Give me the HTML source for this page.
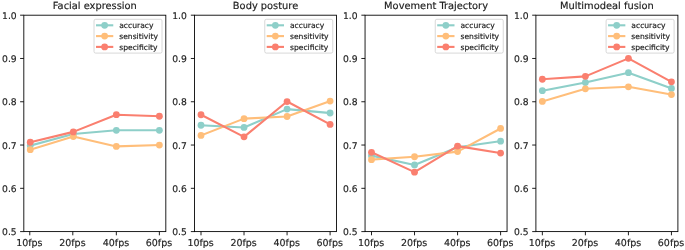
<!DOCTYPE html>
<html lang="en">
<head>
<meta charset="utf-8">
<title>Metrics by frame rate</title>
<style>
html,body{margin:0;padding:0;background:#fff;}
body{width:685px;height:250px;overflow:hidden;}
svg{display:block;text-rendering:geometricPrecision;}
text{stroke:#222;stroke-width:0.16px;font-family:"DejaVu Sans","Liberation Sans",sans-serif;}
</style>
</head>
<body>
<svg width="685" height="250" viewBox="0 0 685 250">
<rect width="685" height="250" fill="#fff"/>
<g>
<polyline points="30.27,145.6 73.3,134 116.34,130.32 159.37,130.32" fill="none" stroke="#8ECFC9" stroke-width="2.1" stroke-linejoin="round" stroke-linecap="square"/>
<circle cx="30.27" cy="145.6" r="3.4" fill="#8ECFC9"/>
<circle cx="73.3" cy="134" r="3.4" fill="#8ECFC9"/>
<circle cx="116.34" cy="130.32" r="3.4" fill="#8ECFC9"/>
<circle cx="159.37" cy="130.32" r="3.4" fill="#8ECFC9"/>
<polyline points="30.27,149.67 73.3,136.51 116.34,146.42 159.37,145.08" fill="none" stroke="#FFBE7A" stroke-width="2.1" stroke-linejoin="round" stroke-linecap="square"/>
<circle cx="30.27" cy="149.67" r="3.4" fill="#FFBE7A"/>
<circle cx="73.3" cy="136.51" r="3.4" fill="#FFBE7A"/>
<circle cx="116.34" cy="146.42" r="3.4" fill="#FFBE7A"/>
<circle cx="159.37" cy="145.08" r="3.4" fill="#FFBE7A"/>
<polyline points="30.27,142.23 73.3,131.88 116.34,114.7 159.37,116.26" fill="none" stroke="#FA7F6F" stroke-width="2.1" stroke-linejoin="round" stroke-linecap="square"/>
<circle cx="30.27" cy="142.23" r="3.4" fill="#FA7F6F"/>
<circle cx="73.3" cy="131.88" r="3.4" fill="#FA7F6F"/>
<circle cx="116.34" cy="114.7" r="3.4" fill="#FA7F6F"/>
<circle cx="159.37" cy="116.26" r="3.4" fill="#FA7F6F"/>
<rect x="23.82" y="15.2" width="142" height="216.4" fill="none" stroke="#000" stroke-width="0.88"/>
<path d="M29.77 231.6v3.7M72.8 231.6v3.7M116.34 231.6v3.7M159.37 231.6v3.7M23.82 231.6h-3.7M23.82 188.32h-3.7M23.82 145.04h-3.7M23.82 101.76h-3.7M23.82 58.48h-3.7M23.82 15.2h-3.7" stroke="#000" stroke-width="0.88" fill="none"/>
<g font-size="9.5" fill="#222">
<text x="29.37" y="246" text-anchor="middle">10fps</text>
<text x="72.4" y="246" text-anchor="middle">20fps</text>
<text x="115.94" y="246" text-anchor="middle">40fps</text>
<text x="158.97" y="246" text-anchor="middle">60fps</text>
<text x="16.72" y="235.15" text-anchor="end" font-size="9.2">0.5</text>
<text x="16.72" y="191.87" text-anchor="end" font-size="9.2">0.6</text>
<text x="16.72" y="148.59" text-anchor="end" font-size="9.2">0.7</text>
<text x="16.72" y="105.31" text-anchor="end" font-size="9.2">0.8</text>
<text x="16.72" y="62.03" text-anchor="end" font-size="9.2">0.9</text>
<text x="16.72" y="18.75" text-anchor="end" font-size="9.2">1.0</text>
</g>
<text x="94.82" y="8.8" text-anchor="middle" font-size="9.85" fill="#222">Facial expression</text>
<rect x="94.02" y="19.3" width="68" height="33.8" rx="1.6" fill="#fff" fill-opacity="0.8" stroke="#ccc" stroke-opacity="0.8" stroke-width="0.95"/>
<g font-size="7.6" fill="#222" style="stroke-width:0.06px">
<path d="M97.02 25.3h15.2" stroke="#8ECFC9" stroke-width="2.1" stroke-linecap="square" fill="none"/>
<circle cx="104.62" cy="25.3" r="3.4" fill="#8ECFC9"/>
<text x="119.22" y="28">accuracy</text>
<path d="M97.02 36.1h15.2" stroke="#FFBE7A" stroke-width="2.1" stroke-linecap="square" fill="none"/>
<circle cx="104.62" cy="36.1" r="3.4" fill="#FFBE7A"/>
<text x="119.22" y="38.8">sensitivity</text>
<path d="M97.02 46.9h15.2" stroke="#FA7F6F" stroke-width="2.1" stroke-linecap="square" fill="none"/>
<circle cx="104.62" cy="46.9" r="3.4" fill="#FA7F6F"/>
<text x="119.22" y="49.6">specificity</text>
</g>
</g>
<g>
<polyline points="201,125.26 244.03,127.47 287.07,109.12 330.1,113.01" fill="none" stroke="#8ECFC9" stroke-width="2.1" stroke-linejoin="round" stroke-linecap="square"/>
<circle cx="201" cy="125.26" r="3.4" fill="#8ECFC9"/>
<circle cx="244.03" cy="127.47" r="3.4" fill="#8ECFC9"/>
<circle cx="287.07" cy="109.12" r="3.4" fill="#8ECFC9"/>
<circle cx="330.1" cy="113.01" r="3.4" fill="#8ECFC9"/>
<polyline points="201,135.39 244.03,118.64 287.07,116.48 330.1,101.07" fill="none" stroke="#FFBE7A" stroke-width="2.1" stroke-linejoin="round" stroke-linecap="square"/>
<circle cx="201" cy="135.39" r="3.4" fill="#FFBE7A"/>
<circle cx="244.03" cy="118.64" r="3.4" fill="#FFBE7A"/>
<circle cx="287.07" cy="116.48" r="3.4" fill="#FFBE7A"/>
<circle cx="330.1" cy="101.07" r="3.4" fill="#FFBE7A"/>
<polyline points="201,114.74 244.03,136.82 287.07,101.54 330.1,124.4" fill="none" stroke="#FA7F6F" stroke-width="2.1" stroke-linejoin="round" stroke-linecap="square"/>
<circle cx="201" cy="114.74" r="3.4" fill="#FA7F6F"/>
<circle cx="244.03" cy="136.82" r="3.4" fill="#FA7F6F"/>
<circle cx="287.07" cy="101.54" r="3.4" fill="#FA7F6F"/>
<circle cx="330.1" cy="124.4" r="3.4" fill="#FA7F6F"/>
<rect x="194.55" y="15.2" width="142" height="216.4" fill="none" stroke="#000" stroke-width="0.88"/>
<path d="M201 231.6v3.7M244.03 231.6v3.7M287.07 231.6v3.7M330.1 231.6v3.7M194.55 231.6h-3.7M194.55 188.32h-3.7M194.55 145.04h-3.7M194.55 101.76h-3.7M194.55 58.48h-3.7M194.55 15.2h-3.7" stroke="#000" stroke-width="0.88" fill="none"/>
<g font-size="9.5" fill="#222">
<text x="200.6" y="246" text-anchor="middle">10fps</text>
<text x="243.63" y="246" text-anchor="middle">20fps</text>
<text x="286.67" y="246" text-anchor="middle">40fps</text>
<text x="329.7" y="246" text-anchor="middle">60fps</text>
<text x="186.85" y="235.15" text-anchor="end" font-size="9.2">0.5</text>
<text x="186.85" y="191.87" text-anchor="end" font-size="9.2">0.6</text>
<text x="186.85" y="148.59" text-anchor="end" font-size="9.2">0.7</text>
<text x="186.85" y="105.31" text-anchor="end" font-size="9.2">0.8</text>
<text x="186.85" y="62.03" text-anchor="end" font-size="9.2">0.9</text>
<text x="186.85" y="18.75" text-anchor="end" font-size="9.2">1.0</text>
</g>
<text x="265.55" y="8.8" text-anchor="middle" font-size="9.85" fill="#222">Body posture</text>
<rect x="264.75" y="19.3" width="68" height="33.8" rx="1.6" fill="#fff" fill-opacity="0.8" stroke="#ccc" stroke-opacity="0.8" stroke-width="0.95"/>
<g font-size="7.6" fill="#222" style="stroke-width:0.06px">
<path d="M267.75 25.3h15.2" stroke="#8ECFC9" stroke-width="2.1" stroke-linecap="square" fill="none"/>
<circle cx="275.35" cy="25.3" r="3.4" fill="#8ECFC9"/>
<text x="289.95" y="28">accuracy</text>
<path d="M267.75 36.1h15.2" stroke="#FFBE7A" stroke-width="2.1" stroke-linecap="square" fill="none"/>
<circle cx="275.35" cy="36.1" r="3.4" fill="#FFBE7A"/>
<text x="289.95" y="38.8">sensitivity</text>
<path d="M267.75 46.9h15.2" stroke="#FA7F6F" stroke-width="2.1" stroke-linecap="square" fill="none"/>
<circle cx="275.35" cy="46.9" r="3.4" fill="#FA7F6F"/>
<text x="289.95" y="49.6">specificity</text>
</g>
</g>
<g>
<polyline points="371.5,155.64 414.53,164.95 457.57,147.2 500.6,141.14" fill="none" stroke="#8ECFC9" stroke-width="2.1" stroke-linejoin="round" stroke-linecap="square"/>
<circle cx="371.5" cy="155.64" r="3.4" fill="#8ECFC9"/>
<circle cx="414.53" cy="164.95" r="3.4" fill="#8ECFC9"/>
<circle cx="457.57" cy="147.2" r="3.4" fill="#8ECFC9"/>
<circle cx="500.6" cy="141.14" r="3.4" fill="#8ECFC9"/>
<polyline points="371.5,159.63 414.53,156.73 457.57,151.62 500.6,128.46" fill="none" stroke="#FFBE7A" stroke-width="2.1" stroke-linejoin="round" stroke-linecap="square"/>
<circle cx="371.5" cy="159.63" r="3.4" fill="#FFBE7A"/>
<circle cx="414.53" cy="156.73" r="3.4" fill="#FFBE7A"/>
<circle cx="457.57" cy="151.62" r="3.4" fill="#FFBE7A"/>
<circle cx="500.6" cy="128.46" r="3.4" fill="#FFBE7A"/>
<polyline points="371.5,152.31 414.53,172.13 457.57,146.12 500.6,153.05" fill="none" stroke="#FA7F6F" stroke-width="2.1" stroke-linejoin="round" stroke-linecap="square"/>
<circle cx="371.5" cy="152.31" r="3.4" fill="#FA7F6F"/>
<circle cx="414.53" cy="172.13" r="3.4" fill="#FA7F6F"/>
<circle cx="457.57" cy="146.12" r="3.4" fill="#FA7F6F"/>
<circle cx="500.6" cy="153.05" r="3.4" fill="#FA7F6F"/>
<rect x="365.05" y="15.2" width="142" height="216.4" fill="none" stroke="#000" stroke-width="0.88"/>
<path d="M371.5 231.6v3.7M414.53 231.6v3.7M457.57 231.6v3.7M500.6 231.6v3.7M365.05 231.6h-3.7M365.05 188.32h-3.7M365.05 145.04h-3.7M365.05 101.76h-3.7M365.05 58.48h-3.7M365.05 15.2h-3.7" stroke="#000" stroke-width="0.88" fill="none"/>
<g font-size="9.5" fill="#222">
<text x="371.1" y="246" text-anchor="middle">10fps</text>
<text x="414.13" y="246" text-anchor="middle">20fps</text>
<text x="457.17" y="246" text-anchor="middle">40fps</text>
<text x="500.2" y="246" text-anchor="middle">60fps</text>
<text x="357.65" y="235.15" text-anchor="end" font-size="9.2">0.5</text>
<text x="357.65" y="191.87" text-anchor="end" font-size="9.2">0.6</text>
<text x="357.65" y="148.59" text-anchor="end" font-size="9.2">0.7</text>
<text x="357.65" y="105.31" text-anchor="end" font-size="9.2">0.8</text>
<text x="357.65" y="62.03" text-anchor="end" font-size="9.2">0.9</text>
<text x="357.65" y="18.75" text-anchor="end" font-size="9.2">1.0</text>
</g>
<text x="436.05" y="8.8" text-anchor="middle" font-size="9.85" fill="#222">Movement Trajectory</text>
<rect x="435.25" y="19.3" width="68" height="33.8" rx="1.6" fill="#fff" fill-opacity="0.8" stroke="#ccc" stroke-opacity="0.8" stroke-width="0.95"/>
<g font-size="7.6" fill="#222" style="stroke-width:0.06px">
<path d="M438.25 25.3h15.2" stroke="#8ECFC9" stroke-width="2.1" stroke-linecap="square" fill="none"/>
<circle cx="445.85" cy="25.3" r="3.4" fill="#8ECFC9"/>
<text x="460.45" y="28">accuracy</text>
<path d="M438.25 36.1h15.2" stroke="#FFBE7A" stroke-width="2.1" stroke-linecap="square" fill="none"/>
<circle cx="445.85" cy="36.1" r="3.4" fill="#FFBE7A"/>
<text x="460.45" y="38.8">sensitivity</text>
<path d="M438.25 46.9h15.2" stroke="#FA7F6F" stroke-width="2.1" stroke-linecap="square" fill="none"/>
<circle cx="445.85" cy="46.9" r="3.4" fill="#FA7F6F"/>
<text x="460.45" y="49.6">specificity</text>
</g>
</g>
<g>
<polyline points="542.35,90.68 585.38,82.5 628.42,72.68 671.45,88.47" fill="none" stroke="#8ECFC9" stroke-width="2.1" stroke-linejoin="round" stroke-linecap="square"/>
<circle cx="542.35" cy="90.68" r="3.4" fill="#8ECFC9"/>
<circle cx="585.38" cy="82.5" r="3.4" fill="#8ECFC9"/>
<circle cx="628.42" cy="72.68" r="3.4" fill="#8ECFC9"/>
<circle cx="671.45" cy="88.47" r="3.4" fill="#8ECFC9"/>
<polyline points="542.35,101.46 585.38,88.78 628.42,86.79 671.45,94.62" fill="none" stroke="#FFBE7A" stroke-width="2.1" stroke-linejoin="round" stroke-linecap="square"/>
<circle cx="542.35" cy="101.46" r="3.4" fill="#FFBE7A"/>
<circle cx="585.38" cy="88.78" r="3.4" fill="#FFBE7A"/>
<circle cx="628.42" cy="86.79" r="3.4" fill="#FFBE7A"/>
<circle cx="671.45" cy="94.62" r="3.4" fill="#FFBE7A"/>
<polyline points="542.35,79.25 585.38,76.35 628.42,58.35 671.45,81.85" fill="none" stroke="#FA7F6F" stroke-width="2.1" stroke-linejoin="round" stroke-linecap="square"/>
<circle cx="542.35" cy="79.25" r="3.4" fill="#FA7F6F"/>
<circle cx="585.38" cy="76.35" r="3.4" fill="#FA7F6F"/>
<circle cx="628.42" cy="58.35" r="3.4" fill="#FA7F6F"/>
<circle cx="671.45" cy="81.85" r="3.4" fill="#FA7F6F"/>
<rect x="535.9" y="15.2" width="142" height="216.4" fill="none" stroke="#000" stroke-width="0.88"/>
<path d="M542.35 231.6v3.7M585.38 231.6v3.7M628.42 231.6v3.7M671.45 231.6v3.7M535.9 231.6h-3.7M535.9 188.32h-3.7M535.9 145.04h-3.7M535.9 101.76h-3.7M535.9 58.48h-3.7M535.9 15.2h-3.7" stroke="#000" stroke-width="0.88" fill="none"/>
<g font-size="9.5" fill="#222">
<text x="541.95" y="246" text-anchor="middle">10fps</text>
<text x="584.98" y="246" text-anchor="middle">20fps</text>
<text x="628.02" y="246" text-anchor="middle">40fps</text>
<text x="671.05" y="246" text-anchor="middle">60fps</text>
<text x="528.5" y="235.15" text-anchor="end" font-size="9.2">0.5</text>
<text x="528.5" y="191.87" text-anchor="end" font-size="9.2">0.6</text>
<text x="528.5" y="148.59" text-anchor="end" font-size="9.2">0.7</text>
<text x="528.5" y="105.31" text-anchor="end" font-size="9.2">0.8</text>
<text x="528.5" y="62.03" text-anchor="end" font-size="9.2">0.9</text>
<text x="528.5" y="18.75" text-anchor="end" font-size="9.2">1.0</text>
</g>
<text x="606.9" y="8.8" text-anchor="middle" font-size="9.85" fill="#222">Multimodeal fusion</text>
<rect x="606.1" y="19.3" width="68" height="33.8" rx="1.6" fill="#fff" fill-opacity="0.8" stroke="#ccc" stroke-opacity="0.8" stroke-width="0.95"/>
<g font-size="7.6" fill="#222" style="stroke-width:0.06px">
<path d="M609.1 25.3h15.2" stroke="#8ECFC9" stroke-width="2.1" stroke-linecap="square" fill="none"/>
<circle cx="616.7" cy="25.3" r="3.4" fill="#8ECFC9"/>
<text x="631.3" y="28">accuracy</text>
<path d="M609.1 36.1h15.2" stroke="#FFBE7A" stroke-width="2.1" stroke-linecap="square" fill="none"/>
<circle cx="616.7" cy="36.1" r="3.4" fill="#FFBE7A"/>
<text x="631.3" y="38.8">sensitivity</text>
<path d="M609.1 46.9h15.2" stroke="#FA7F6F" stroke-width="2.1" stroke-linecap="square" fill="none"/>
<circle cx="616.7" cy="46.9" r="3.4" fill="#FA7F6F"/>
<text x="631.3" y="49.6">specificity</text>
</g>
</g>
</svg>
</body>
</html>
